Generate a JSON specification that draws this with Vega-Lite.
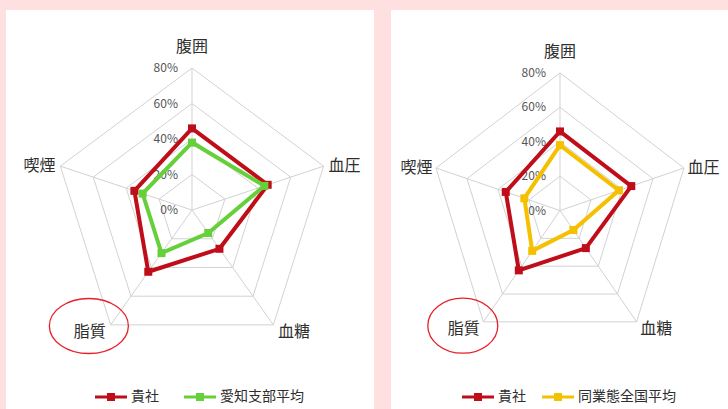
{
  "$schema": "https://vega.github.io/schema/vega-lite/v6.json",
  "background": "#fde0df",
  "padding": {"left": 6, "top": 10, "right": 0, "bottom": 0},
  "spacing": 17,
  "config": {
    "view": {"fill": "white", "stroke": null},
    "font": "Noto Sans CJK JP",
    "text": {"font": "Noto Sans CJK JP"}
  },
  "datasets": {
    "axes": [
      {"axis": "腹囲", "rings": [0, 20, 40, 60, 80]},
      {"axis": "血圧", "rings": [0, 20, 40, 60, 80]},
      {"axis": "血糖", "rings": [0, 20, 40, 60, 80]},
      {"axis": "脂質", "rings": [0, 20, 40, 60, 80]},
      {"axis": "喫煙", "rings": [0, 20, 40, 60, 80]}
    ],
    "scores": [
      {"series": "貴社", "axis": "腹囲", "value": 46},
      {"series": "貴社", "axis": "血圧", "value": 46},
      {"series": "貴社", "axis": "血糖", "value": 27},
      {"series": "貴社", "axis": "脂質", "value": 43},
      {"series": "貴社", "axis": "喫煙", "value": 35},
      {"series": "愛知支部平均", "axis": "腹囲", "value": 38},
      {"series": "愛知支部平均", "axis": "血圧", "value": 44},
      {"series": "愛知支部平均", "axis": "血糖", "value": 16},
      {"series": "愛知支部平均", "axis": "脂質", "value": 30},
      {"series": "愛知支部平均", "axis": "喫煙", "value": 30},
      {"series": "同業態全国平均", "axis": "腹囲", "value": 38},
      {"series": "同業態全国平均", "axis": "血圧", "value": 38},
      {"series": "同業態全国平均", "axis": "血糖", "value": 14},
      {"series": "同業態全国平均", "axis": "脂質", "value": 29},
      {"series": "同業態全国平均", "axis": "喫煙", "value": 23}
    ]
  },
  "resolve": {"scale": {"color": "independent", "x": "independent", "y": "independent"}, "legend": {"color": "independent"}},
  "hconcat": [
    {
      "width": 368,
      "height": 399,
      "encoding": {
        "x": {"field": "x", "type": "quantitative", "scale": {"domain": [-107.5, 105.2], "nice": false, "zero": false}, "axis": null},
        "y": {"field": "y", "type": "quantitative", "scale": {"domain": [-112.1, 112.7], "nice": false, "zero": false}, "axis": null}
      },
      "layer": [
        {
          "data": {"name": "axes"},
          "transform": [
            {"flatten": ["rings"], "as": ["ring"]},
            {"filter": "datum.ring > 0"},
            {"calculate": "indexof(['腹囲','血圧','血糖','脂質','喫煙'], datum.axis)", "as": "idx"},
            {"calculate": "datum.ring*sin(datum.idx*2*PI/5)", "as": "x"},
            {"calculate": "datum.ring*cos(datum.idx*2*PI/5)", "as": "y"}
          ],
          "mark": {"type": "line", "interpolate": "linear-closed", "stroke": "#d2d2d2", "strokeWidth": 1},
          "encoding": {"detail": {"field": "ring", "type": "nominal"}, "order": {"field": "idx", "type": "quantitative"}}
        },
        {
          "data": {"name": "axes"},
          "transform": [
            {"calculate": "indexof(['腹囲','血圧','血糖','脂質','喫煙'], datum.axis)", "as": "idx"},
            {"calculate": "80*sin(datum.idx*2*PI/5)", "as": "x"},
            {"calculate": "80*cos(datum.idx*2*PI/5)", "as": "y"}
          ],
          "mark": {"type": "rule", "stroke": "#d2d2d2", "strokeWidth": 1},
          "encoding": {"x2": {"datum": 0}, "y2": {"datum": 0}}
        },
        {
          "data": {"name": "axes"},
          "transform": [
            {"filter": "datum.axis == '腹囲'"},
            {"flatten": ["rings"], "as": ["ring"]},
            {"calculate": "0", "as": "x"},
            {"calculate": "datum.ring", "as": "y"},
            {"calculate": "datum.ring/100", "as": "pct"}
          ],
          "mark": {"type": "text", "align": "right", "baseline": "middle", "dx": -14, "fontSize": 12, "fill": "#555555"},
          "encoding": {"text": {"field": "pct", "type": "quantitative", "format": ".0%"}}
        },
        {
          "data": {"name": "axes"},
          "transform": [
            {"calculate": "indexof(['腹囲','血圧','血糖','脂質','喫煙'], datum.axis)", "as": "idx"},
            {"calculate": "sin(datum.idx*2*PI/5)", "as": "s"},
            {"calculate": "cos(datum.idx*2*PI/5)", "as": "c"},
            {"calculate": "80*datum.s + (datum.s > 0.1 ? 12 : (datum.s < -0.1 ? -12 : 0))", "as": "x"},
            {"calculate": "80*datum.c + (datum.idx == 0 ? 12 : (datum.c < 0 ? -4 : 0))", "as": "y"}
          ],
          "mark": {"type": "text", "align": "center", "baseline": "middle", "fontSize": 16, "fill": "#2e2e2e"},
          "encoding": {"text": {"field": "axis", "type": "nominal"}}
        },
        {
          "data": {"name": "scores"},
          "transform": [
            {"filter": {"field": "series", "oneOf": ["貴社", "愛知支部平均"]}},
            {"calculate": "indexof(['腹囲','血圧','血糖','脂質','喫煙'], datum.axis)", "as": "idx"},
            {"calculate": "datum.value*sin(datum.idx*2*PI/5)", "as": "x"},
            {"calculate": "datum.value*cos(datum.idx*2*PI/5)", "as": "y"}
          ],
          "mark": {"type": "line", "interpolate": "linear-closed", "strokeWidth": 4},
          "encoding": {
            "color": {"field": "series", "type": "nominal", "scale": {"domain": ["貴社", "愛知支部平均"], "range": ["#c00d1a", "#66d03a"]},
              "legend": {"orient": "none", "legendX": 97, "legendY": 379, "direction": "horizontal", "title": null, "symbolType": "M-2,-0.2H2V0.2H-2Z M-0.5,-0.5H0.5V0.5H-0.5Z", "symbolSize": 256, "symbolStrokeWidth": 0, "labelFontSize": 14, "labelColor": "#2e2e2e", "labelOffset": 12, "columnPadding": 25}},
            "detail": {"field": "series", "type": "nominal"},
            "order": {"field": "idx", "type": "quantitative"}
          }
        },
        {
          "data": {"name": "scores"},
          "transform": [
            {"filter": {"field": "series", "oneOf": ["貴社", "愛知支部平均"]}},
            {"calculate": "indexof(['腹囲','血圧','血糖','脂質','喫煙'], datum.axis)", "as": "idx"},
            {"calculate": "datum.value*sin(datum.idx*2*PI/5)", "as": "x"},
            {"calculate": "datum.value*cos(datum.idx*2*PI/5)", "as": "y"}
          ],
          "mark": {"type": "point", "shape": "square", "filled": true, "size": 64, "opacity": 1},
          "encoding": {
            "color": {"field": "series", "type": "nominal", "scale": {"domain": ["貴社", "愛知支部平均"], "range": ["#c00d1a", "#66d03a"]}}
          }
        },
        {
          "data": {"name": "axes"},
          "transform": [
            {"filter": "datum.axis == '脂質'"},
            {"calculate": "indexof(['腹囲','血圧','血糖','脂質','喫煙'], datum.axis)", "as": "idx"},
            {"calculate": "sin(datum.idx*2*PI/5)", "as": "s"},
            {"calculate": "cos(datum.idx*2*PI/5)", "as": "c"},
            {"calculate": "80*datum.s + (datum.s > 0.1 ? 12 : (datum.s < -0.1 ? -12 : 0))", "as": "x"},
            {"calculate": "80*datum.c + (datum.idx == 0 ? 12 : (datum.c < 0 ? -4 : 0))", "as": "y"}
          ],
          "mark": {"type": "point", "filled": false, "size": 400, "stroke": "#e8202a", "strokeWidth": 1.3, "opacity": 1,
            "shape": "M -4.05 -0.6 C -4.05 -2.119 -2.28 -3.35 -0.1 -3.35 C 2.08 -3.35 3.85 -2.119 3.85 -0.6 C 3.85 0.919 2.08 2.15 -0.1 2.15 C -2.28 2.15 -4.05 0.919 -4.05 -0.6 Z"}
        }
      ]
    },
    {
      "width": 337,
      "height": 399,
      "encoding": {
        "x": {"field": "x", "type": "quantitative", "scale": {"domain": [-103.7, 103.1], "nice": false, "zero": false}, "axis": null},
        "y": {"field": "y", "type": "quantitative", "scale": {"domain": [-115.4, 116.6], "nice": false, "zero": false}, "axis": null}
      },
      "layer": [
        {
          "data": {"name": "axes"},
          "transform": [
            {"flatten": ["rings"], "as": ["ring"]},
            {"filter": "datum.ring > 0"},
            {"calculate": "indexof(['腹囲','血圧','血糖','脂質','喫煙'], datum.axis)", "as": "idx"},
            {"calculate": "datum.ring*sin(datum.idx*2*PI/5)", "as": "x"},
            {"calculate": "datum.ring*cos(datum.idx*2*PI/5)", "as": "y"}
          ],
          "mark": {"type": "line", "interpolate": "linear-closed", "stroke": "#d2d2d2", "strokeWidth": 1},
          "encoding": {"detail": {"field": "ring", "type": "nominal"}, "order": {"field": "idx", "type": "quantitative"}}
        },
        {
          "data": {"name": "axes"},
          "transform": [
            {"calculate": "indexof(['腹囲','血圧','血糖','脂質','喫煙'], datum.axis)", "as": "idx"},
            {"calculate": "80*sin(datum.idx*2*PI/5)", "as": "x"},
            {"calculate": "80*cos(datum.idx*2*PI/5)", "as": "y"}
          ],
          "mark": {"type": "rule", "stroke": "#d2d2d2", "strokeWidth": 1},
          "encoding": {"x2": {"datum": 0}, "y2": {"datum": 0}}
        },
        {
          "data": {"name": "axes"},
          "transform": [
            {"filter": "datum.axis == '腹囲'"},
            {"flatten": ["rings"], "as": ["ring"]},
            {"calculate": "0", "as": "x"},
            {"calculate": "datum.ring", "as": "y"},
            {"calculate": "datum.ring/100", "as": "pct"}
          ],
          "mark": {"type": "text", "align": "right", "baseline": "middle", "dx": -14, "fontSize": 12, "fill": "#555555"},
          "encoding": {"text": {"field": "pct", "type": "quantitative", "format": ".0%"}}
        },
        {
          "data": {"name": "axes"},
          "transform": [
            {"calculate": "indexof(['腹囲','血圧','血糖','脂質','喫煙'], datum.axis)", "as": "idx"},
            {"calculate": "sin(datum.idx*2*PI/5)", "as": "s"},
            {"calculate": "cos(datum.idx*2*PI/5)", "as": "c"},
            {"calculate": "80*datum.s + (datum.s > 0.1 ? 12 : (datum.s < -0.1 ? -12 : 0))", "as": "x"},
            {"calculate": "80*datum.c + (datum.idx == 0 ? 12 : (datum.c < 0 ? -4 : 0))", "as": "y"}
          ],
          "mark": {"type": "text", "align": "center", "baseline": "middle", "fontSize": 16, "fill": "#2e2e2e"},
          "encoding": {"text": {"field": "axis", "type": "nominal"}}
        },
        {
          "data": {"name": "scores"},
          "transform": [
            {"filter": {"field": "series", "oneOf": ["貴社", "同業態全国平均"]}},
            {"calculate": "indexof(['腹囲','血圧','血糖','脂質','喫煙'], datum.axis)", "as": "idx"},
            {"calculate": "datum.value*sin(datum.idx*2*PI/5)", "as": "x"},
            {"calculate": "datum.value*cos(datum.idx*2*PI/5)", "as": "y"}
          ],
          "mark": {"type": "line", "interpolate": "linear-closed", "strokeWidth": 4},
          "encoding": {
            "color": {"field": "series", "type": "nominal", "scale": {"domain": ["貴社", "同業態全国平均"], "range": ["#c00d1a", "#f5c000"]},
              "legend": {"orient": "none", "legendX": 79, "legendY": 379, "direction": "horizontal", "title": null, "symbolType": "M-2,-0.2H2V0.2H-2Z M-0.5,-0.5H0.5V0.5H-0.5Z", "symbolSize": 256, "symbolStrokeWidth": 0, "labelFontSize": 14, "labelColor": "#2e2e2e", "labelOffset": 12, "columnPadding": 16}},
            "detail": {"field": "series", "type": "nominal"},
            "order": {"field": "idx", "type": "quantitative"}
          }
        },
        {
          "data": {"name": "scores"},
          "transform": [
            {"filter": {"field": "series", "oneOf": ["貴社", "同業態全国平均"]}},
            {"calculate": "indexof(['腹囲','血圧','血糖','脂質','喫煙'], datum.axis)", "as": "idx"},
            {"calculate": "datum.value*sin(datum.idx*2*PI/5)", "as": "x"},
            {"calculate": "datum.value*cos(datum.idx*2*PI/5)", "as": "y"}
          ],
          "mark": {"type": "point", "shape": "square", "filled": true, "size": 64, "opacity": 1},
          "encoding": {
            "color": {"field": "series", "type": "nominal", "scale": {"domain": ["貴社", "同業態全国平均"], "range": ["#c00d1a", "#f5c000"]}}
          }
        },
        {
          "data": {"name": "axes"},
          "transform": [
            {"filter": "datum.axis == '脂質'"},
            {"calculate": "indexof(['腹囲','血圧','血糖','脂質','喫煙'], datum.axis)", "as": "idx"},
            {"calculate": "sin(datum.idx*2*PI/5)", "as": "s"},
            {"calculate": "cos(datum.idx*2*PI/5)", "as": "c"},
            {"calculate": "80*datum.s + (datum.s > 0.1 ? 12 : (datum.s < -0.1 ? -12 : 0))", "as": "x"},
            {"calculate": "80*datum.c + (datum.idx == 0 ? 12 : (datum.c < 0 ? -4 : 0))", "as": "y"}
          ],
          "mark": {"type": "point", "filled": false, "size": 400, "stroke": "#e8202a", "strokeWidth": 1.3, "opacity": 1,
            "shape": "M -3.6 -0.3 C -3.6 -1.819 -2.033 -3.05 -0.1 -3.05 C 1.833 -3.05 3.4 -1.819 3.4 -0.3 C 3.4 1.219 1.833 2.45 -0.1 2.45 C -2.033 2.45 -3.6 1.219 -3.6 -0.3 Z"}
        }
      ]
    }
  ]
}
